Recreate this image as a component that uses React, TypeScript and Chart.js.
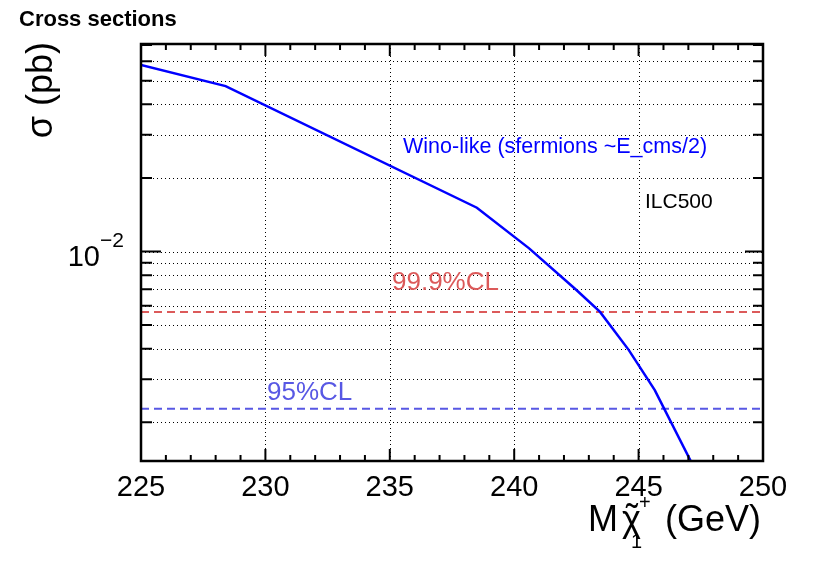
import { useEffect, useRef } from 'react';
import { Chart, ChartConfiguration, Plugin, registerables } from 'chart.js';

Chart.register(...registerables);

// cross section curve
const massGeV = [225, 228.4, 238.5, 240.6, 242.5, 243.45, 244.6, 245.65, 247.6];
const sigmaPb = [0.0579, 0.0475, 0.0151, 0.0103, 0.00696, 0.00566, 0.00396, 0.00271, 0.0011];

// exclusion levels
const clLabels = ['99.9%CL', '95%CL'];
const clValues = [0.005657, 0.002275];
const clColors = ['rgb(220, 90, 90)', 'rgb(88, 88, 228)'];

// axes
const xMin = 225;
const xMax = 250;
const yMin = 0.00139;
const yMax = 0.0706;
const xMajorTicks = [225, 230, 235, 240, 245, 250];
const xTickLabels = ['225', '230', '235', '240', '245', '250'];
const xMinorTicks = [226, 227, 228, 229, 231, 232, 233, 234, 236, 237, 238, 239, 241, 242, 243, 244, 246, 247, 248, 249];
const yMajorTicks = [0.01];
const yMinorTicks = [0.002, 0.003, 0.004, 0.005, 0.006, 0.007, 0.008, 0.009, 0.02, 0.03, 0.04, 0.05, 0.06, 0.07];

const FONT = '"Liberation Sans", Arial, Helvetica, sans-serif';

const rootStyle: Plugin<'line'> = {
  id: 'rootStyle',
  beforeDatasetsDraw(chart) {
    const { ctx, chartArea: a } = chart;
    const xs = chart.scales.x;
    const ys = chart.scales.y;
    ctx.save();
    ctx.strokeStyle = '#000';
    ctx.lineWidth = 1;
    ctx.setLineDash([1, 3]);
    // vertical grid on major x ticks
    xMajorTicks.forEach(v => {
      if (v <= xMin || v >= xMax) return;
      const px = Math.round(xs.getPixelForValue(v)) + 0.5;
      ctx.beginPath();
      ctx.moveTo(px, a.top);
      ctx.lineTo(px, a.bottom);
      ctx.stroke();
    });
    // horizontal grid on every log tick
    [...yMajorTicks, ...yMinorTicks].forEach(v => {
      const py = Math.round(ys.getPixelForValue(v)) + 0.5;
      if (py < a.top + 2 || py > a.bottom - 2) return;
      ctx.beginPath();
      ctx.moveTo(a.left, py);
      ctx.lineTo(a.right, py);
      ctx.stroke();
    });
    ctx.restore();
  },
  afterDatasetsDraw(chart) {
    const { ctx, chartArea: a } = chart;
    const xs = chart.scales.x;
    const ys = chart.scales.y;
    ctx.save();
    ctx.setLineDash([]);
    ctx.strokeStyle = '#000';

    // ticks (inward, on all four sides)
    ctx.lineWidth = 2;
    const tickX = (v: number, len: number) => {
      const px = xs.getPixelForValue(v);
      ctx.beginPath();
      ctx.moveTo(px, a.bottom);
      ctx.lineTo(px, a.bottom - len);
      ctx.moveTo(px, a.top);
      ctx.lineTo(px, a.top + len);
      ctx.stroke();
    };
    xMajorTicks.forEach(v => tickX(v, 12));
    xMinorTicks.forEach(v => tickX(v, 6));
    const tickY = (v: number, lenL: number, lenR: number) => {
      const py = ys.getPixelForValue(v);
      if (py < a.top || py > a.bottom) return;
      ctx.beginPath();
      ctx.moveTo(a.left, py);
      ctx.lineTo(a.left + lenL, py);
      ctx.moveTo(a.right, py);
      ctx.lineTo(a.right - lenR, py);
      ctx.stroke();
    };
    yMajorTicks.forEach(v => tickY(v, 20, 18));
    yMinorTicks.forEach(v => tickY(v, 11, 10));

    // frame
    ctx.lineWidth = 2.5;
    ctx.strokeRect(a.left, a.top, a.right - a.left, a.bottom - a.top);

    // x tick labels
    ctx.fillStyle = '#000';
    ctx.textBaseline = 'alphabetic';
    ctx.textAlign = 'center';
    ctx.font = `29px ${FONT}`;
    xMajorTicks.forEach((v, i) => {
      ctx.fillText(xTickLabels[i], xs.getPixelForValue(v), a.bottom + 35);
    });

    // y tick label 10^-2
    yMajorTicks.forEach(v => {
      const py = ys.getPixelForValue(v);
      const exp = Math.round(Math.log10(v));
      ctx.textAlign = 'right';
      ctx.font = `29px ${FONT}`;
      ctx.fillText('10', a.left - 41, py + 14.5);
      ctx.textAlign = 'left';
      ctx.font = `21px ${FONT}`;
      ctx.fillText(`\u2212${Math.abs(exp)}`, a.left - 41, py - 4.5);
    });

    // x axis title  M chi~_1^+ (GeV)
    const ty = a.bottom + 70;
    ctx.textAlign = 'left';
    ctx.font = `36px ${FONT}`;
    ctx.fillText('M', 588, ty);
    ctx.fillText('\u03c7', 622, ty);
    ctx.textAlign = 'center';
    ctx.fillText('\u02dc', 632, ty - 1);
    ctx.textAlign = 'left';
    ctx.font = `20px ${FONT}`;
    ctx.fillText('1', 631, ty + 17);
    ctx.fillText('+', 639, ty - 22);
    ctx.font = `36px ${FONT}`;
    ctx.fillText('(GeV)', 665, ty);

    // y axis title
    ctx.save();
    ctx.translate(52, 42);
    ctx.rotate(-Math.PI / 2);
    ctx.textAlign = 'right';
    ctx.font = `36px ${FONT}`;
    ctx.fillText('\u03c3 (pb)', 0, 0);
    ctx.restore();

    // header
    ctx.textAlign = 'left';
    ctx.font = `bold 22px ${FONT}`;
    ctx.fillText('Cross sections', 19, 26);

    // annotations
    ctx.font = `21.5px ${FONT}`;
    ctx.fillStyle = '#0000ff';
    ctx.fillText('Wino-like (sfermions ~E_cms/2)', 403, 153);
    ctx.font = `21px ${FONT}`;
    ctx.fillStyle = '#000';
    ctx.fillText('ILC500', 645, 208);

    ctx.font = `26px ${FONT}`;
    const clX = [392, 267];
    clLabels.forEach((label, i) => {
      ctx.fillStyle = clColors[i];
      ctx.fillText(label, clX[i], ys.getPixelForValue(clValues[i]) - (i === 0 ? 22 : 9));
    });

    ctx.restore();
  },
};

export default function App() {
  const canvasRef = useRef<HTMLCanvasElement>(null);
  const chartRef = useRef<Chart | null>(null);

  useEffect(() => {
    document.body.style.margin = '0';
    if (!canvasRef.current) return;
    if (chartRef.current) chartRef.current.destroy();
    const ctx = canvasRef.current.getContext('2d');
    if (!ctx) return;

    const config: ChartConfiguration<'line'> = {
      type: 'line',
      data: {
        datasets: [
          {
            label: 'Wino-like',
            data: massGeV.map((m, i) => ({ x: m, y: sigmaPb[i] })),
            borderColor: '#0000ff',
            borderWidth: 2.5,
            pointRadius: 0,
            tension: 0,
            fill: false,
          },
          ...clValues.map((v, i) => ({
            label: clLabels[i],
            data: [
              { x: xMin, y: v },
              { x: xMax, y: v },
            ],
            borderColor: clColors[i],
            borderWidth: 2,
            borderDash: [8, 5],
            pointRadius: 0,
            fill: false,
          })),
        ],
      },
      options: {
        responsive: false,
        animation: false,
        devicePixelRatio: 1,
        layout: { padding: { left: 141, right: 67, top: 44, bottom: 102 } },
        plugins: {
          legend: { display: false },
          tooltip: { enabled: false },
          title: { display: false },
        },
        scales: {
          x: { type: 'linear', min: xMin, max: xMax, display: false },
          y: { type: 'logarithmic', min: yMin, max: yMax, display: false },
        },
      },
      plugins: [rootStyle],
    };

    chartRef.current = new Chart(ctx, config);
    return () => {
      if (chartRef.current) {
        chartRef.current.destroy();
        chartRef.current = null;
      }
    };
  }, []);

  return (
    <div style={{ position: 'absolute', left: 0, top: 0, width: 830, height: 563, background: '#fff' }}>
      <canvas ref={canvasRef} width={830} height={563}></canvas>
    </div>
  );
}
